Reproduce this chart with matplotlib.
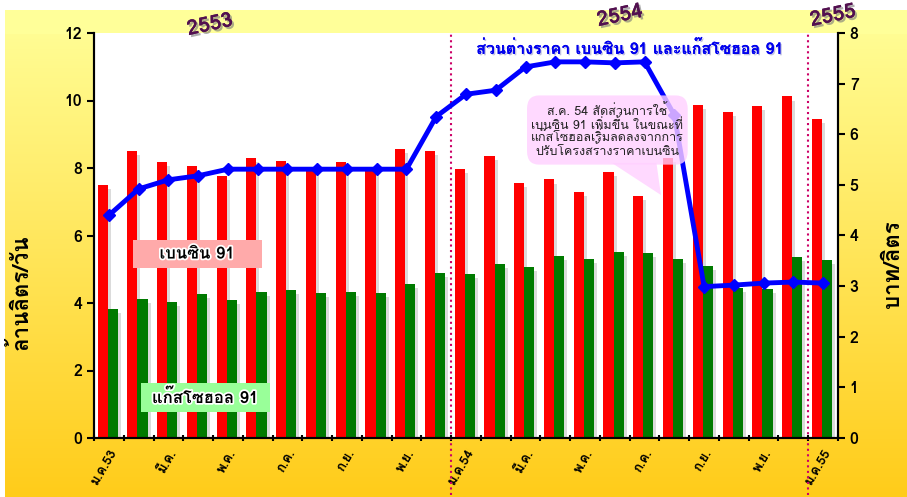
import numpy as np
import matplotlib
matplotlib.use('Agg')
import matplotlib.pyplot as plt
from matplotlib import font_manager
from matplotlib.ft2font import FT2Font
from matplotlib.patches import FancyBboxPatch, Polygon, Rectangle
import matplotlib.patheffects as pe

# pick a font that has Thai glyphs
thai_font = None
for f in font_manager.fontManager.ttflist:
    try:
        if 0x0E01 in FT2Font(f.fname).get_charmap():
            thai_font = f.name
            break
    except Exception:
        pass
fams = [thai_font, 'DejaVu Sans'] if thai_font else ['DejaVu Sans']
plt.rcParams['font.family'] = fams

months = ['ม.ค.53', '', 'มี.ค.', '', 'พ.ค.', '', 'ก.ค.', '', 'ก.ย.', '', 'พ.ย.', '',
          'ม.ค.54', '', 'มี.ค.', '', 'พ.ค.', '', 'ก.ค.', '', 'ก.ย.', '', 'พ.ย.', '',
          'ม.ค.55']
benzin = [7.50, 8.51, 8.17, 8.05, 7.75, 8.30, 8.22, 7.94, 8.17, 7.97, 8.55, 8.51,
          7.96, 8.35, 7.55, 7.66, 7.28, 7.88, 7.16, 8.30, 9.87, 9.65, 9.83, 10.12, 9.45]
gasohol = [3.82, 4.12, 4.04, 4.26, 4.08, 4.34, 4.38, 4.30, 4.34, 4.30, 4.55, 4.89,
           4.85, 5.15, 5.06, 5.40, 5.31, 5.52, 5.48, 5.31, 5.10, 4.45, 4.41, 5.35, 5.27]
diff = [4.40, 4.92, 5.10, 5.18, 5.31, 5.31, 5.31, 5.31, 5.31, 5.31, 5.31, 6.35,
        6.79, 6.87, 7.33, 7.43, 7.43, 7.41, 7.43, 6.38, 2.99, 3.02, 3.06, 3.08, 3.06]
years = ['2553', '2554', '2555']

x = np.arange(len(months))

fig = plt.figure(figsize=(9.07, 4.97), dpi=100)

# yellow gradient background
bg = fig.add_axes([5/907, 0, 902/907, 1 - 10/497], zorder=-10)
grad = np.linspace(0, 1, 256).reshape(-1, 1)
cmap_bg = matplotlib.colors.LinearSegmentedColormap.from_list('bg', ['#FFFF99', '#FFCC1A'])
bg.imshow(grad, aspect='auto', cmap=cmap_bg, extent=[0, 1, 0, 1], origin='upper')
bg.axhspan(1 - 23/487, 1, color='#FFFF99')
bg.set_xlim(0, 1)
bg.set_ylim(0, 1)
bg.axis('off')

ax = fig.add_axes([94/907, 1 - 438/497, 744/907, 405/497])
ax.set_facecolor('white')
ax2 = ax.twinx()

w = 0.34
ax.bar(x - 0.21 + 0.1, np.array(benzin) - 0.12, w, color='#999999', alpha=0.35, zorder=1)
ax.bar(x + 0.13 + 0.1, np.array(gasohol) - 0.12, w, color='#999999', alpha=0.35, zorder=1)
ax.bar(x - 0.21, benzin, w, color='#FF0000', zorder=2)
ax.bar(x + 0.13, gasohol, w, color='#007A00', zorder=2)

ax.set_xlim(-0.5, len(months) - 0.5)
ax.set_ylim(0, 12)
ax.set_yticks(np.arange(0, 13, 2))
ax2.set_ylim(0, 8)
ax2.set_yticks(np.arange(0, 9, 1))

ax.set_xticks(np.arange(-0.5, len(months), 1))
ax.set_xticklabels([])
ax.set_xticks(x, minor=True)
ax.set_xticklabels(months, minor=True, rotation=60, ha='right', va='top',
                   rotation_mode='anchor', fontsize=9.5, fontweight='bold')
ax.tick_params(axis='x', which='minor', length=0, pad=7)
ax.tick_params(axis='x', which='major', length=5, width=1.5, direction='inout')
ax.tick_params(axis='y', length=5, width=1.5, labelsize=11.5)
ax2.tick_params(axis='y', length=5, width=1.5, labelsize=11.5)
for t in ax.get_yticklabels() + ax2.get_yticklabels():
    t.set_fontweight('bold')

for a in (ax, ax2):
    a.spines['top'].set_visible(False)
    a.spines['left'].set_linewidth(1.5)
    a.spines['right'].set_linewidth(1.5)
    a.spines['bottom'].set_linewidth(1.5)

ax.set_ylabel('ล้านลิตร/วัน', fontsize=16, fontweight='bold')
ax.yaxis.set_label_coords(-0.084, 0.36)
ax2.set_ylabel('บาท/ลิตร', fontsize=16, fontweight='bold', rotation=90)
ax2.yaxis.set_label_coords(1.061, 0.43)

ax2.plot(x, diff, color='#0000FF', lw=3.5, marker='D', ms=6.5, zorder=5)

# year separators
for xv in (11.5, 23.5):
    ax.axvline(xv, ymin=-0.14, ymax=1.0, color='#CC0066', ls=':', lw=1.5, clip_on=False, zorder=6)

shadow = [pe.withSimplePatchShadow(offset=(1.5, -1.5), shadow_rgbFace='#777777', alpha=0.6), pe.Normal()]
for xv, yv, s in zip((210, 620, 833), (25, 16, 16), years):
    fig.text(xv/907, 1 - yv/497, s, fontsize=15, fontweight='bold', color='#52104F',
             rotation=12, ha='center', va='center', path_effects=shadow)

ax2.text(0.72, 0.962, 'ส่วนต่างราคา เบนซิน 91 และแก๊สโซฮอล 91', transform=ax.transAxes,
         fontsize=11.5, fontweight='bold', color='#0000EE', ha='center', va='center', zorder=7,
         path_effects=[pe.withSimplePatchShadow(offset=(1, -1), shadow_rgbFace='#9999CC', alpha=0.6), pe.Normal()])

# label boxes
ax.add_patch(Rectangle((0.81, 5.04), 4.34, 0.83, fc='#FFAAAA', ec='none', zorder=7))
ax.text(2.96, 5.45, 'เบนซิน 91', fontsize=12, fontweight='bold', ha='center', va='center', zorder=8,
        path_effects=[pe.withStroke(linewidth=2.5, foreground='white')])
ax.add_patch(Rectangle((1.08, 0.77), 4.33, 0.86, fc='#99FF99', ec='none', zorder=7))
ax.text(3.23, 1.2, 'แก๊สโซฮอล 91', fontsize=12, fontweight='bold', ha='center', va='center', zorder=8,
        path_effects=[pe.withStroke(linewidth=2.5, foreground='white')])

# callout bubble (drawn above the line)
bubble = FancyBboxPatch((14.1, 8.15), 5.3, 1.95, boxstyle='round,pad=0.05,rounding_size=0.4',
                        fc='#FFD0FF', ec='none', alpha=0.8, zorder=8, transform=ax.transData)
ax2.add_patch(bubble)
ax2.add_patch(Polygon([[16.9, 8.15], [18.4, 8.15], [18.55, 7.2]], closed=True, transform=ax.transData,
                      fc='#FFD0FF', ec='none', alpha=0.8, zorder=8))
ax2.text(16.75, 9.1, 'ส.ค. 54 สัดส่วนการใช้\nเบนซิน 91 เพิ่มขึ้น ในขณะที่\nแก๊สโซฮอลเริ่มลดลงจากการ\nปรับโครงสร้างราคาเบนซิน',
         transform=ax.transData, fontsize=9, ha='center', va='center', color='#222222',
         zorder=9, linespacing=0.95)

fig.savefig('out.png', dpi=100)
